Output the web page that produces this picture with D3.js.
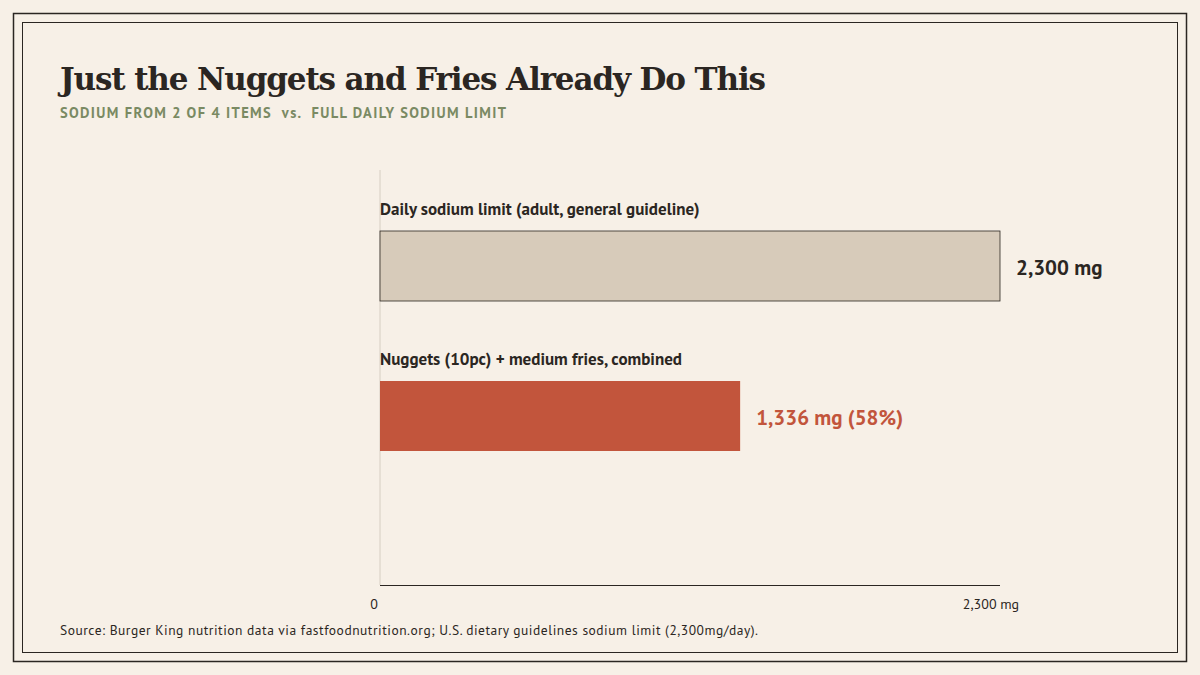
<!DOCTYPE html>
<html><head><meta charset="utf-8">
<script src="https://cdn.jsdelivr.net/npm/d3@7"></script>
<style>body{margin:0;background:#f7f0e7;}</style></head>
<body><svg id="c" width="1200" height="675"></svg>
<script>
const categories = ["Daily sodium limit (adult, general guideline)", "Nuggets (10pc) + medium fries, combined"];
const values = [2300, 1336];
const valueLabels = ["2,300 mg", "1,336 mg (58%)"];
const tickValues = [0, 2300];
const tickLabels = ["0", "2,300 mg"];
const colors = ["#d7cbba", "#c2553c"];
const labelColors = ["#2b2622", "#c2553c"];

const svg = d3.select("#c");
const sans = "'PT Sans','Open Sans','Noto Sans',sans-serif";
svg.append("rect").attr("width",1200).attr("height",675).attr("fill","#f7f0e7");
svg.append("rect").attr("x",13.5).attr("y",13.5).attr("width",1173).attr("height",648).attr("fill","none").attr("stroke","#2b2622").attr("stroke-width",1.5);
svg.append("rect").attr("x",22.5).attr("y",22.5).attr("width",1155).attr("height",630).attr("fill","none").attr("stroke","#2b2622").attr("stroke-width",1);

svg.append("text").attr("x",60).attr("y",90).text("Just the Nuggets and Fries Already Do This")
  .attr("font-family","'DejaVu Serif',serif").attr("font-weight","bold").attr("font-size",31).attr("fill","#2b2622").attr("textLength",706);
svg.append("text").attr("x",60).attr("y",118).text("SODIUM FROM 2 OF 4 ITEMS  vs.  FULL DAILY SODIUM LIMIT")
  .attr("font-family",sans).attr("font-weight","bold").attr("font-size",14.5).attr("fill","#7a8a63").attr("xml:space","preserve").attr("textLength",446);

const x = d3.scaleLinear().domain([0,2300]).range([380,1000]);
const y = d3.scaleBand().domain(categories).range([200,500]).paddingInner(0).paddingOuter(0);

svg.append("line").attr("x1",x(0)).attr("x2",x(0)).attr("y1",170).attr("y2",585).attr("stroke","#d6cec2");
svg.append("line").attr("x1",x(0)).attr("x2",x(2300)).attr("y1",585.5).attr("y2",585.5).attr("stroke","#2b2622");

categories.forEach((c,i)=>{
  const top = y(c) + 31;
  svg.append("text").attr("x",x(0)).attr("y",top-16).text(c)
    .attr("font-family",sans).attr("font-weight","bold").attr("font-size",17).attr("fill","#2b2622");
  svg.append("rect").attr("x",x(0)).attr("y",top).attr("width",x(values[i])-x(0)).attr("height",70)
    .attr("fill",colors[i]).attr("stroke",i===0?"#2b2622":"none").attr("stroke-width",0.8);
  svg.append("text").attr("x",x(values[i])+16).attr("y",top+44).text(valueLabels[i])
    .attr("font-family",sans).attr("font-weight","bold").attr("font-size",21).attr("fill",labelColors[i]);
});

tickValues.forEach((t,i)=>{
  svg.append("text").attr("x",x(t)-(i?9:6)).attr("y",609).attr("text-anchor","middle").text(tickLabels[i])
    .attr("font-family",sans).attr("font-size",14).attr("fill","#2b2622");
});
svg.append("text").attr("x",60).attr("y",635).text("Source: Burger King nutrition data via fastfoodnutrition.org; U.S. dietary guidelines sodium limit (2,300mg/day).")
  .attr("font-family",sans).attr("font-size",13.5).attr("fill","#2b2622").attr("textLength",698);
</script></body></html>
